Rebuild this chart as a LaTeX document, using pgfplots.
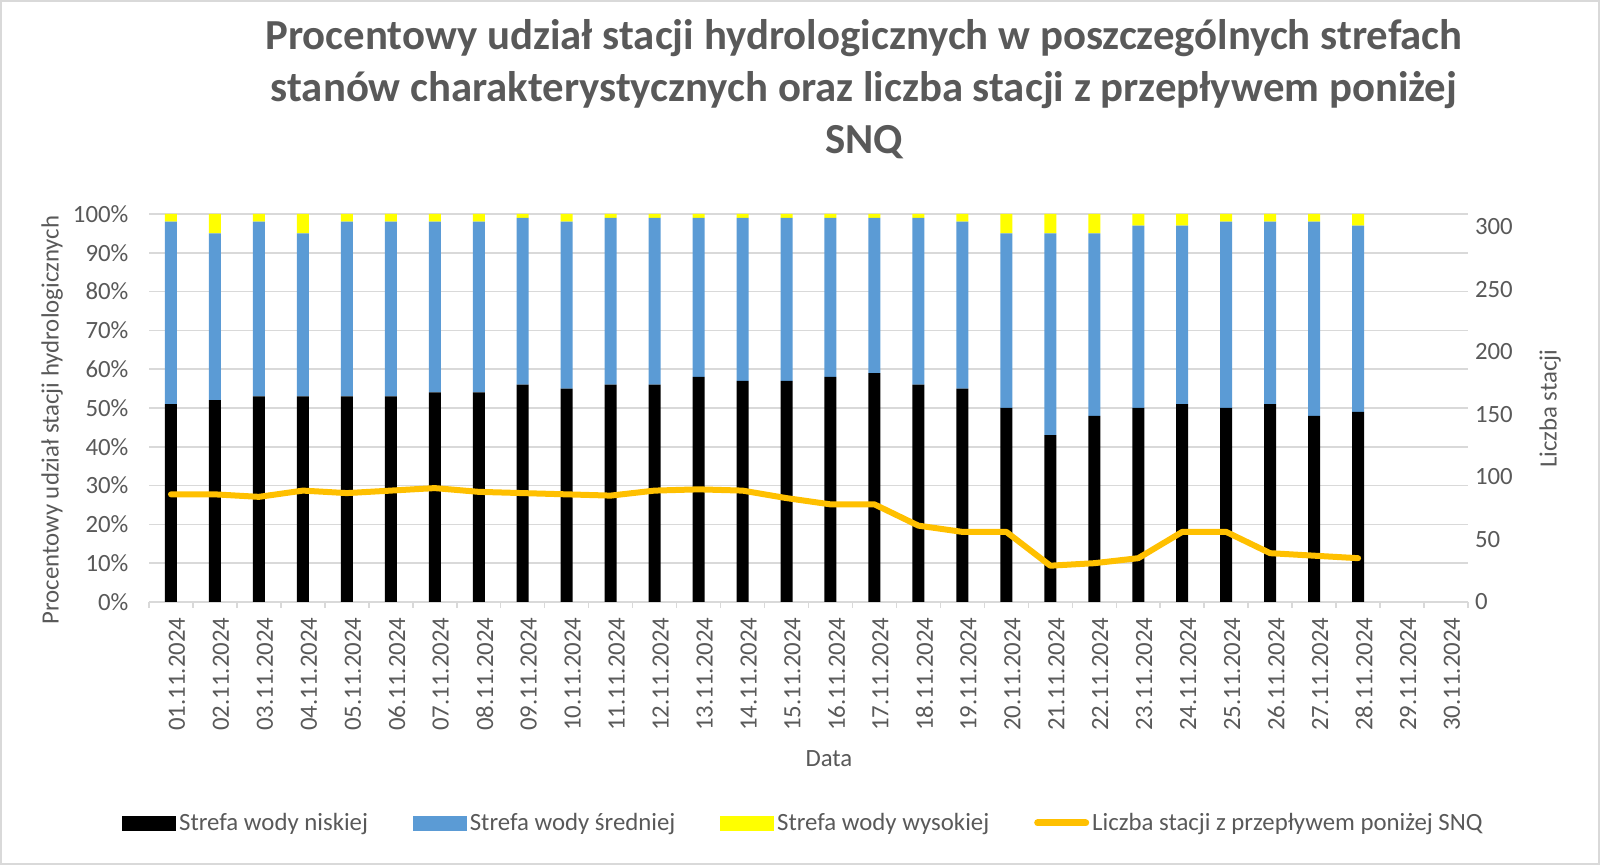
\documentclass[border=0pt]{standalone}
\usepackage{fontspec}
\setmainfont{Carlito}
\usepackage{pgfplots}
\pgfplotsset{compat=1.18}
\usepackage{pgfplotstable}

\definecolor{cBlue}{HTML}{5B9BD5}
\definecolor{cYellow}{HTML}{FFFF00}
\definecolor{cOrange}{HTML}{FFC000}
\definecolor{tgray}{HTML}{595959}
\definecolor{gridgray}{HTML}{D9D9D9}
\definecolor{bordergray}{HTML}{D9D9D9}

\pgfplotstableread{
x low mid high snq
0  51 47 2 86
1  52 43 5 86
2  53 45 2 84
3  53 42 5 89
4  53 45 2 87
5  53 45 2 89
6  54 44 2 91
7  54 44 2 88
8  56 43 1 87
9  55 43 2 86
10 56 43 1 85
11 56 43 1 89
12 58 41 1 90
13 57 42 1 89
14 57 42 1 83
15 58 41 1 78
16 59 40 1 78
17 56 43 1 61
18 55 43 2 56
19 50 45 5 56
20 43 52 5 29
21 48 47 5 31
22 50 47 3 35
23 51 46 3 56
24 50 48 2 56
25 51 47 2 39
26 48 50 2 37
27 49 48 3 35
}\datatable

\newcommand{\tickfont}{\fontsize{12.4}{14.5}\selectfont}

\begin{document}
\begin{tikzpicture}
\useasboundingbox (0,0) rectangle (800pt,432.5pt);
\draw[bordergray, line width=0.8pt] (0.4pt,0.4pt) rectangle (799.6pt,432.1pt);
\node[font=\fontsize{21.4}{26}\selectfont\bfseries, text=tgray, align=center] at (432pt,388pt)
  {Procentowy udział stacji hydrologicznych w poszczególnych strefach\\stanów charakterystycznych oraz liczba stacji z przepływem poniżej\\SNQ};

\begin{axis}[
  at={(74.5pt,131.5pt)}, anchor=south west,
  scale only axis, width=659.5pt, height=194pt,
  xmin=-0.5, xmax=29.5, ymin=0, ymax=100,
  enlargelimits=false,
  ybar stacked, bar width=6pt,
  xtick={0,...,29},
  xticklabels={01.11.2024,02.11.2024,03.11.2024,04.11.2024,05.11.2024,06.11.2024,07.11.2024,08.11.2024,09.11.2024,10.11.2024,11.11.2024,12.11.2024,13.11.2024,14.11.2024,15.11.2024,16.11.2024,17.11.2024,18.11.2024,19.11.2024,20.11.2024,21.11.2024,22.11.2024,23.11.2024,24.11.2024,25.11.2024,26.11.2024,27.11.2024,28.11.2024,29.11.2024,30.11.2024},
  x tick label style={rotate=90, anchor=east, font=\tickfont, text=tgray, yshift=-3pt},
  minor xtick={-0.5,0.5,...,29.5},
  minor x tick style={gridgray, line width=0.75pt},
  major x tick style={draw=none},
  minor tick length=3pt,
  tick align=outside,
  ytick={0,10,...,100},
  yticklabels={0\%,10\%,20\%,30\%,40\%,50\%,60\%,70\%,80\%,90\%,100\%},
  y tick label style={font=\tickfont, text=tgray, xshift=-2.5pt},
  major y tick style={draw=none},
  ymajorgrids, grid style={gridgray, line width=0.75pt},
  axis x line*=bottom, axis y line*=left,
  x axis line style={gridgray, line width=0.75pt, -},
  y axis line style={draw=none},
  xlabel={Data},
  xlabel style={at={(axis description cs:0.5155,-0.4046)}, anchor=center, font=\tickfont, text=tgray},
  ylabel={Procentowy udział stacji hydrologicznych},
  ylabel style={at={(axis description cs:-0.0735,0.469)}, anchor=center, font=\tickfont, text=tgray},
  clip=false,
]
\addplot[fill=black, draw=none] table[x=x, y=low] {\datatable};
\addplot[fill=cBlue, draw=none] table[x=x, y=mid] {\datatable};
\addplot[fill=cYellow, draw=none] table[x=x, y=high] {\datatable};
\end{axis}

\begin{axis}[
  at={(74.5pt,131.5pt)}, anchor=south west,
  scale only axis, width=659.5pt, height=194pt,
  xmin=-0.5, xmax=29.5, ymin=0, ymax=310,
  enlargelimits=false,
  axis x line=none, axis y line*=right,
  y axis line style={draw=none},
  major tick length=0pt,
  ytick={0,50,...,300},
  yticklabels={0,50,100,150,200,250,300},
  y tick label style={font=\tickfont, text=tgray},
  ylabel={Liczba stacji},
  ylabel style={at={(axis description cs:1.0622,0.498)}, anchor=center, rotate=0, font=\tickfont, text=tgray},
  legend style={at={(axis description cs:0.4966,-0.5696)}, anchor=center, draw=none, fill=none,
    legend columns=4, font=\tickfont, text=tgray,
    /tikz/every even column/.append style={column sep=21pt},
    nodes={inner sep=1.5pt}},
  legend cell align=left,
]
\addlegendimage{legend image code/.code={\fill[black] (0pt,-3.5pt) rectangle (26.5pt,3.5pt);}}
\addlegendentry{Strefa wody niskiej}
\addlegendimage{legend image code/.code={\fill[cBlue] (0pt,-3.5pt) rectangle (26.5pt,3.5pt);}}
\addlegendentry{Strefa wody średniej}
\addlegendimage{legend image code/.code={\fill[cYellow] (0pt,-3.5pt) rectangle (26.5pt,3.5pt);}}
\addlegendentry{Strefa wody wysokiej}
\addlegendimage{legend image code/.code={\draw[cOrange, line width=3.5pt, line cap=round] (1.5pt,0pt) -- (25.5pt,0pt);}}
\addlegendentry{Liczba stacji z przepływem poniżej SNQ}
\addplot[color=cOrange, line width=3pt, line join=round, line cap=round, mark=none, forget plot] table[x=x, y=snq] {\datatable};
\end{axis}
\end{tikzpicture}
\end{document}
